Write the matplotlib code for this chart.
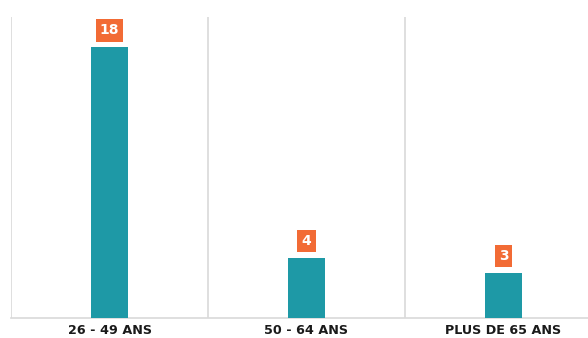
import matplotlib
matplotlib.use("Agg")
import matplotlib.pyplot as plt

# données
categories = ["26 - 49 ANS", "50 - 64 ANS", "PLUS DE 65 ANS"]
values = [18, 4, 3]

BAR_COLOR = "#1E99A6"
LABEL_COLOR = "#F26B35"
GRID_COLOR = "#D9D9D9"

fig = plt.figure(figsize=(5.88, 3.38), dpi=100)
ax = fig.add_axes([11 / 588, 20 / 338, 591 / 588, 301 / 338])

x = list(range(len(categories)))
ax.bar(x, values, width=0.183, color=BAR_COLOR, zorder=3)

ax.set_xlim(-0.5, len(categories) - 0.5)
ax.set_ylim(0, 20)

# séparateurs verticaux entre catégories
for b in [i - 0.5 for i in range(len(categories) + 1)]:
    ax.axvline(b, color=GRID_COLOR, lw=1.2, zorder=1)

for s in ["top", "right", "left"]:
    ax.spines[s].set_visible(False)
ax.spines["bottom"].set_color(GRID_COLOR)
ax.spines["bottom"].set_linewidth(1.2)

ax.set_yticks([])
ax.set_xticks(x)
ax.set_xticklabels(categories, fontsize=9.2, fontweight="heavy", color="#1a1a1a")
ax.tick_params(axis="x", length=0, pad=4.5)

# étiquettes de valeur
for xi, v in zip(x, values):
    ax.annotate(
        str(v), (xi, v), xytext=(0, 12), textcoords="offset points",
        ha="center", va="center", fontsize=10, fontweight="bold", color="white",
        bbox=dict(boxstyle="square,pad=0.3", fc=LABEL_COLOR, ec="none"),
        zorder=4,
    )

fig.savefig("out.png", dpi=100)
